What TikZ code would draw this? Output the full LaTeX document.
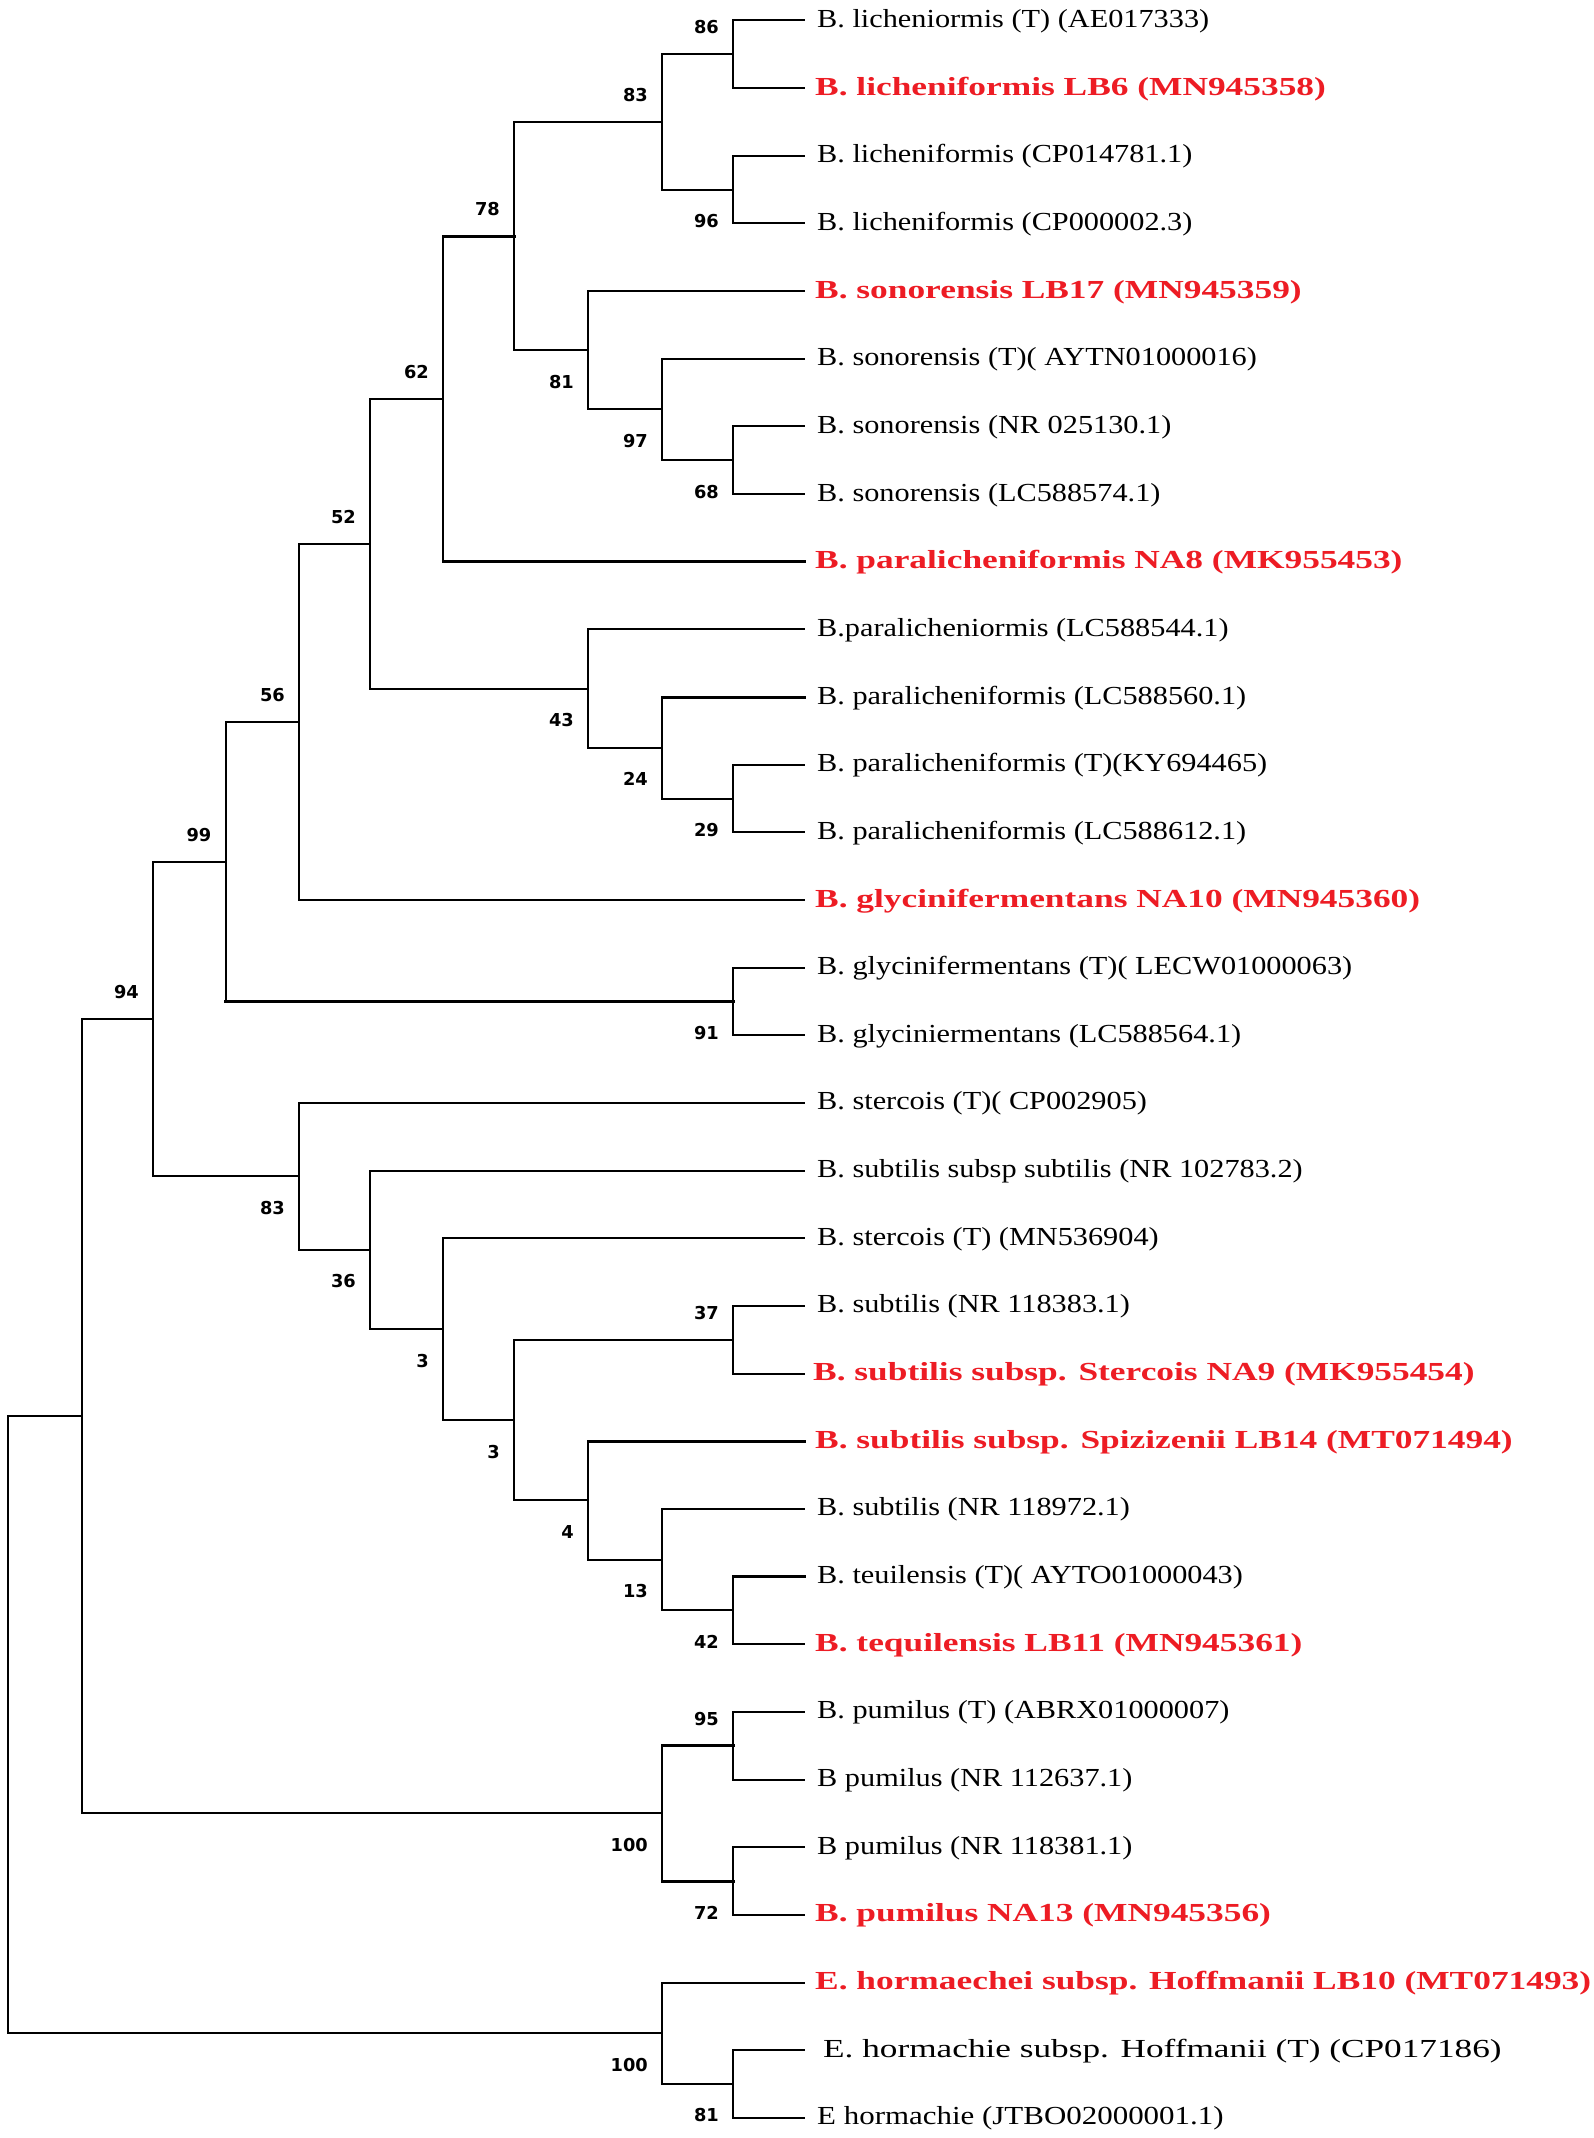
\documentclass[tikz,border=0pt]{standalone}
\usepackage{fontspec}
\setmainfont{Liberation Serif}
\newfontfamily\blkf[FakeStretch=1.165]{Liberation Serif}
\newfontfamily\eblkf[FakeStretch=1.19]{Liberation Serif}
\newfontfamily\wblkf[FakeStretch=1.355]{Liberation Serif}
\newfontfamily\redf[FakeStretch=1.36]{Liberation Serif}
\newfontfamily\lblf{DejaVu Sans}
\usetikzlibrary{calc}
\definecolor{isored}{RGB}{237,28,36}
\tikzset{
  br/.style={line width=2pt, line join=miter, line cap=rect},
  brk/.style={line width=3pt, line cap=rect},
  bsup/.style={font={\lblf\bfseries\fontsize{17.8}{20}\selectfont}, inner sep=0pt, anchor=east},
  leafb/.style={font={\blkf\fontsize{26}{30}\selectfont}, inner sep=0pt, anchor=base west},
  leafe/.style={font={\eblkf\fontsize{26}{30}\selectfont}, inner sep=0pt, anchor=base west},
  leafw/.style={font={\wblkf\fontsize{26}{30}\selectfont}, inner sep=0pt, anchor=base west},
  leafr/.style={font={\redf\bfseries\fontsize{26}{30}\selectfont}, text=isored, inner sep=0pt, anchor=base west}
}
\begin{document}
\begin{tikzpicture}[x=1pt,y=-1pt]
\useasboundingbox (0,0) rectangle (1594,2138);
% ---- leaf tips ----
\coordinate (l1) at (804,20.4);
\coordinate (l2) at (804,88.1);
\coordinate (l3) at (804,155.7);
\coordinate (l4) at (804,223.4);
\coordinate (l5) at (804,291.0);
\coordinate (l6) at (804,358.7);
\coordinate (l7) at (804,426.4);
\coordinate (l8) at (804,494.0);
\coordinate (l9) at (804,561.7);
\coordinate (l10) at (804,629.3);
\coordinate (l11) at (804,697.0);
\coordinate (l12) at (804,764.7);
\coordinate (l13) at (804,832.3);
\coordinate (l14) at (804,900.0);
\coordinate (l15) at (804,967.6);
\coordinate (l16) at (804,1035.3);
\coordinate (l17) at (804,1102.9);
\coordinate (l18) at (804,1170.6);
\coordinate (l19) at (804,1238.3);
\coordinate (l20) at (804,1305.9);
\coordinate (l21) at (804,1373.6);
\coordinate (l22) at (804,1441.2);
\coordinate (l23) at (804,1508.9);
\coordinate (l24) at (804,1576.5);
\coordinate (l25) at (804,1644.2);
\coordinate (l26) at (804,1711.9);
\coordinate (l27) at (804,1779.5);
\coordinate (l28) at (804,1847.2);
\coordinate (l29) at (804,1914.8);
\coordinate (l30) at (804,1982.5);
\coordinate (l31) at (804,2050.1);
\coordinate (l32) at (804,2117.8);
% ---- internal nodes ----
\coordinate (n86) at (733,54.25);
\coordinate (n96) at (733,189.55);
\coordinate (n83) at (662,121.9);
\coordinate (n68) at (733,460.2);
\coordinate (n97) at (662,409.45);
\coordinate (n81) at (588,350.2);
\coordinate (n78) at (514,236.05);
\coordinate (n62) at (443,398.9);
\coordinate (n29) at (733,798.5);
\coordinate (n24) at (662,747.75);
\coordinate (n43) at (588,688.5);
\coordinate (n52) at (370,543.7);
\coordinate (n56) at (299,721.85);
\coordinate (n91) at (733,1001.45);
\coordinate (n99) at (225.5,861.65);
\coordinate (n37) at (733,1339.75);
\coordinate (n42) at (733,1610.35);
\coordinate (n13) at (662,1559.6);
\coordinate (n4) at (588,1500.4);
\coordinate (n3b) at (514,1420.1);
\coordinate (n3a) at (443,1329.2);
\coordinate (n36) at (370,1249.9);
\coordinate (n83b) at (299,1176.4);
\coordinate (n94) at (153,1019.0);
\coordinate (n95) at (733,1745.7);
\coordinate (n72) at (733,1881.0);
\coordinate (n100p) at (662,1813.35);
\coordinate (nA) at (81.6,1416.2);
\coordinate (n81e) at (733,2083.95);
\coordinate (n100e) at (662,2033.2);
\coordinate (root) at (8,1724.7);
% ---- branches ----
\draw[br] (root) |- (nA);
\draw[br] (root) |- (n100e);
\draw[br] (nA) |- (n94);
\draw[br] (nA) |- (n100p);
\draw[br] (n94) |- (n99);
\draw[br] (n94) |- (n83b);
\draw[br] (n99) |- (n56);
\draw[br] (n99) -- (n99 |- n91);
\draw[brk] (n99 |- n91) -- (n91);
\draw[br] (n56) |- (n52);
\draw[br] (n56) |- (l14);
\draw[br] (n52) |- (n62);
\draw[br] (n52) |- (n43);
\draw[br] (n62) -- (n62 |- n78);
\draw[brk] (n62 |- n78) -- (n78);
\draw[br] (n62) -- (n62 |- l9);
\draw[brk] (n62 |- l9) -- (l9);
\draw[br] (n78) |- (n83);
\draw[br] (n78) |- (n81);
\draw[br] (n83) |- (n86);
\draw[br] (n83) |- (n96);
\draw[br] (n86) |- (l1);
\draw[br] (n86) |- (l2);
\draw[br] (n96) |- (l3);
\draw[br] (n96) |- (l4);
\draw[br] (n81) |- (l5);
\draw[br] (n81) |- (n97);
\draw[br] (n97) |- (l6);
\draw[br] (n97) |- (n68);
\draw[br] (n68) |- (l7);
\draw[br] (n68) |- (l8);
\draw[br] (n43) |- (l10);
\draw[br] (n43) |- (n24);
\draw[br] (n24) -- (n24 |- l11);
\draw[brk] (n24 |- l11) -- (l11);
\draw[br] (n24) |- (n29);
\draw[br] (n29) |- (l12);
\draw[br] (n29) |- (l13);
\draw[br] (n91) |- (l15);
\draw[br] (n91) |- (l16);
\draw[br] (n83b) |- (l17);
\draw[br] (n83b) |- (n36);
\draw[br] (n36) |- (l18);
\draw[br] (n36) |- (n3a);
\draw[br] (n3a) |- (l19);
\draw[br] (n3a) |- (n3b);
\draw[br] (n3b) |- (n37);
\draw[br] (n3b) |- (n4);
\draw[br] (n37) |- (l20);
\draw[br] (n37) |- (l21);
\draw[br] (n4) -- (n4 |- l22);
\draw[brk] (n4 |- l22) -- (l22);
\draw[br] (n4) |- (n13);
\draw[br] (n13) |- (l23);
\draw[br] (n13) |- (n42);
\draw[br] (n42) -- (n42 |- l24);
\draw[brk] (n42 |- l24) -- (l24);
\draw[br] (n42) |- (l25);
\draw[br] (n100p) -- (n100p |- n95);
\draw[brk] (n100p |- n95) -- (n95);
\draw[br] (n100p) -- (n100p |- n72);
\draw[brk] (n100p |- n72) -- (n72);
\draw[br] (n95) |- (l26);
\draw[br] (n95) |- (l27);
\draw[br] (n72) |- (l28);
\draw[br] (n72) |- (l29);
\draw[br] (n100e) |- (l30);
\draw[br] (n100e) |- (n81e);
\draw[br] (n81e) |- (l31);
\draw[br] (n81e) |- (l32);
% ---- bootstrap values ----
\node[bsup] (b86) at ($(n86)+(-14,-27)$) {86};
\node[bsup] (b83) at ($(n83)+(-14,-27)$) {83};
\node[bsup] (b96) at ($(n96)+(-14,31.5)$) {96};
\node[bsup] (b78) at ($(n78)+(-14,-27)$) {78};
\node[bsup] (b81) at ($(n81)+(-14,31.5)$) {81};
\node[bsup] (b97) at ($(n97)+(-14,31.5)$) {97};
\node[bsup] (b68) at ($(n68)+(-14,31.5)$) {68};
\node[bsup] (b62) at ($(n62)+(-14,-27)$) {62};
\node[bsup] (b52) at ($(n52)+(-14,-27)$) {52};
\node[bsup] (b43) at ($(n43)+(-14,31.5)$) {43};
\node[bsup] (b24) at ($(n24)+(-14,31.5)$) {24};
\node[bsup] (b29) at ($(n29)+(-14,31.5)$) {29};
\node[bsup] (b56) at ($(n56)+(-14,-27)$) {56};
\node[bsup] (b99) at ($(n99)+(-14,-27)$) {99};
\node[bsup] (b91) at ($(n91)+(-14,31.5)$) {91};
\node[bsup] (b94) at ($(n94)+(-14,-27)$) {94};
\node[bsup] (b83b) at ($(n83b)+(-14,31.5)$) {83};
\node[bsup] (b36) at ($(n36)+(-14,31.5)$) {36};
\node[bsup] (b3a) at ($(n3a)+(-14,31.5)$) {3};
\node[bsup] (b3b) at ($(n3b)+(-14,31.5)$) {3};
\node[bsup] (b37) at ($(n37)+(-14,-27)$) {37};
\node[bsup] (b4) at ($(n4)+(-14,31.5)$) {4};
\node[bsup] (b13) at ($(n13)+(-14,31.5)$) {13};
\node[bsup] (b42) at ($(n42)+(-14,31.5)$) {42};
\node[bsup] (b95) at ($(n95)+(-14,-27)$) {95};
\node[bsup] (b100p) at ($(n100p)+(-14,31.5)$) {100};
\node[bsup] (b72) at ($(n72)+(-14,31.5)$) {72};
\node[bsup] (b100e) at ($(n100e)+(-14,31.5)$) {100};
\node[bsup] (b81e) at ($(n81e)+(-14,31.5)$) {81};
% ---- leaf names ----
\node[leafb] (t1) at ($(l1)+(13,7)$) {B. licheniormis (T) (AE017333)};
\node[leafr] (t2) at ($(l2)+(11,7)$) {B. licheniformis LB6 (MN945358)};
\node[leafb] (t3) at ($(l3)+(13,7)$) {B. licheniformis (CP014781.1)};
\node[leafb] (t4) at ($(l4)+(13,7)$) {B. licheniformis (CP000002.3)};
\node[leafr] (t5) at ($(l5)+(11,7)$) {B. sonorensis LB17 (MN945359)};
\node[leafb] (t6) at ($(l6)+(13,7)$) {B. sonorensis (T)( AYTN01000016)};
\node[leafb] (t7) at ($(l7)+(13,7)$) {B. sonorensis (NR 025130.1)};
\node[leafb] (t8) at ($(l8)+(13,7)$) {B. sonorensis (LC588574.1)};
\node[leafr] (t9) at ($(l9)+(11,7)$) {B. paralicheniformis NA8 (MK955453)};
\node[leafb] (t10) at ($(l10)+(13,7)$) {B.paralicheniormis (LC588544.1)};
\node[leafb] (t11) at ($(l11)+(13,7)$) {B. paralicheniformis (LC588560.1)};
\node[leafb] (t12) at ($(l12)+(13,7)$) {B. paralicheniformis (T)(KY694465)};
\node[leafb] (t13) at ($(l13)+(13,7)$) {B. paralicheniformis (LC588612.1)};
\node[leafr] (t14) at ($(l14)+(11,7)$) {B. glycinifermentans NA10 (MN945360)};
\node[leafb] (t15) at ($(l15)+(13,7)$) {B. glycinifermentans (T)( LECW01000063)};
\node[leafb] (t16) at ($(l16)+(13,7)$) {B. glyciniermentans (LC588564.1)};
\node[leafb] (t17) at ($(l17)+(13,7)$) {B. stercois (T)( CP002905)};
\node[leafb] (t18) at ($(l18)+(13,7)$) {B. subtilis subsp subtilis (NR 102783.2)};
\node[leafb] (t19) at ($(l19)+(13,7)$) {B. stercois (T) (MN536904)};
\node[leafb] (t20) at ($(l20)+(13,7)$) {B. subtilis (NR 118383.1)};
\node[leafr] (t21) at ($(l21)+(9,7)$) {B. subtilis subsp. Stercois NA9 (MK955454)};
\node[leafr] (t22) at ($(l22)+(11,7)$) {B. subtilis subsp. Spizizenii LB14 (MT071494)};
\node[leafb] (t23) at ($(l23)+(13,7)$) {B. subtilis (NR 118972.1)};
\node[leafb] (t24) at ($(l24)+(13,7)$) {B. teuilensis (T)( AYTO01000043)};
\node[leafr] (t25) at ($(l25)+(11,7)$) {B. tequilensis LB11 (MN945361)};
\node[leafb] (t26) at ($(l26)+(13,7)$) {B. pumilus (T) (ABRX01000007)};
\node[leafb] (t27) at ($(l27)+(13,7)$) {B pumilus (NR 112637.1)};
\node[leafb] (t28) at ($(l28)+(13,7)$) {B pumilus (NR 118381.1)};
\node[leafr] (t29) at ($(l29)+(11,7)$) {B. pumilus NA13 (MN945356)};
\node[leafr] (t30) at ($(l30)+(11,7)$) {E. hormaechei subsp. Hoffmanii LB10 (MT071493)};
\node[leafw] (t31) at ($(l31)+(19,7)$) {E. hormachie subsp. Hoffmanii (T) (CP017186)};
\node[leafe] (t32) at ($(l32)+(13,7)$) {E hormachie (JTBO02000001.1)};
\end{tikzpicture}
\end{document}
